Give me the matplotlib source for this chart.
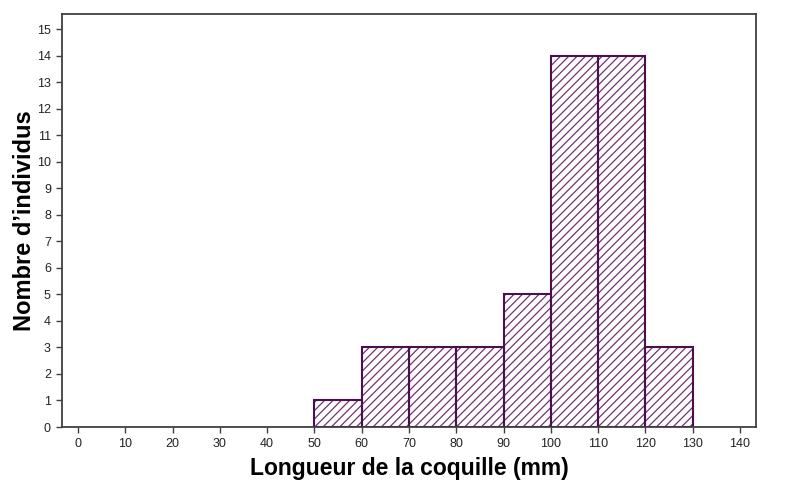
import matplotlib
matplotlib.use('Agg')
import matplotlib.pyplot as plt

# Histogram data: class edges (mm) and counts
bin_left = [50, 60, 70, 80, 90, 100, 110, 120]
counts = [1, 3, 3, 3, 5, 14, 14, 3]
bin_width = 10
x_ticks = list(range(0, 141, 10))
y_ticks = list(range(0, 16))

plt.rcParams['font.family'] = ['Liberation Sans', 'DejaVu Sans']
plt.rcParams['hatch.linewidth'] = 0.9

fig = plt.figure(figsize=(8.01, 4.94), dpi=100)
ax = fig.add_axes([0.0774, 0.1356, 0.8664, 0.8361])

# hatched fill, then darker outlines on top
ax.bar(bin_left, counts, width=bin_width, align='edge',
       facecolor='white', edgecolor='#6e3470', hatch='////', linewidth=0)
ax.bar(bin_left, counts, width=bin_width, align='edge',
       facecolor='none', edgecolor='#4a0f4c', linewidth=1.5)

ax.set_xlim(-3.4, 143.4)
ax.set_ylim(0, 15.57)
ax.set_xticks(x_ticks)
ax.set_yticks(y_ticks)

ax.tick_params(direction='out', length=4, width=1, color='#404040',
               labelsize=9, labelcolor='#222222', pad=4)
for sp in ax.spines.values():
    sp.set_color('#404040')
    sp.set_linewidth(1.3)

ax.set_xlabel('Longueur de la coquille (mm)', fontsize=16.5, fontweight='bold', labelpad=5)
ax.set_ylabel('Nombre d’individus', fontsize=17, fontweight='bold')
ax.yaxis.set_label_coords(-0.038, 0.5)

fig.savefig('out.png', dpi=100)
